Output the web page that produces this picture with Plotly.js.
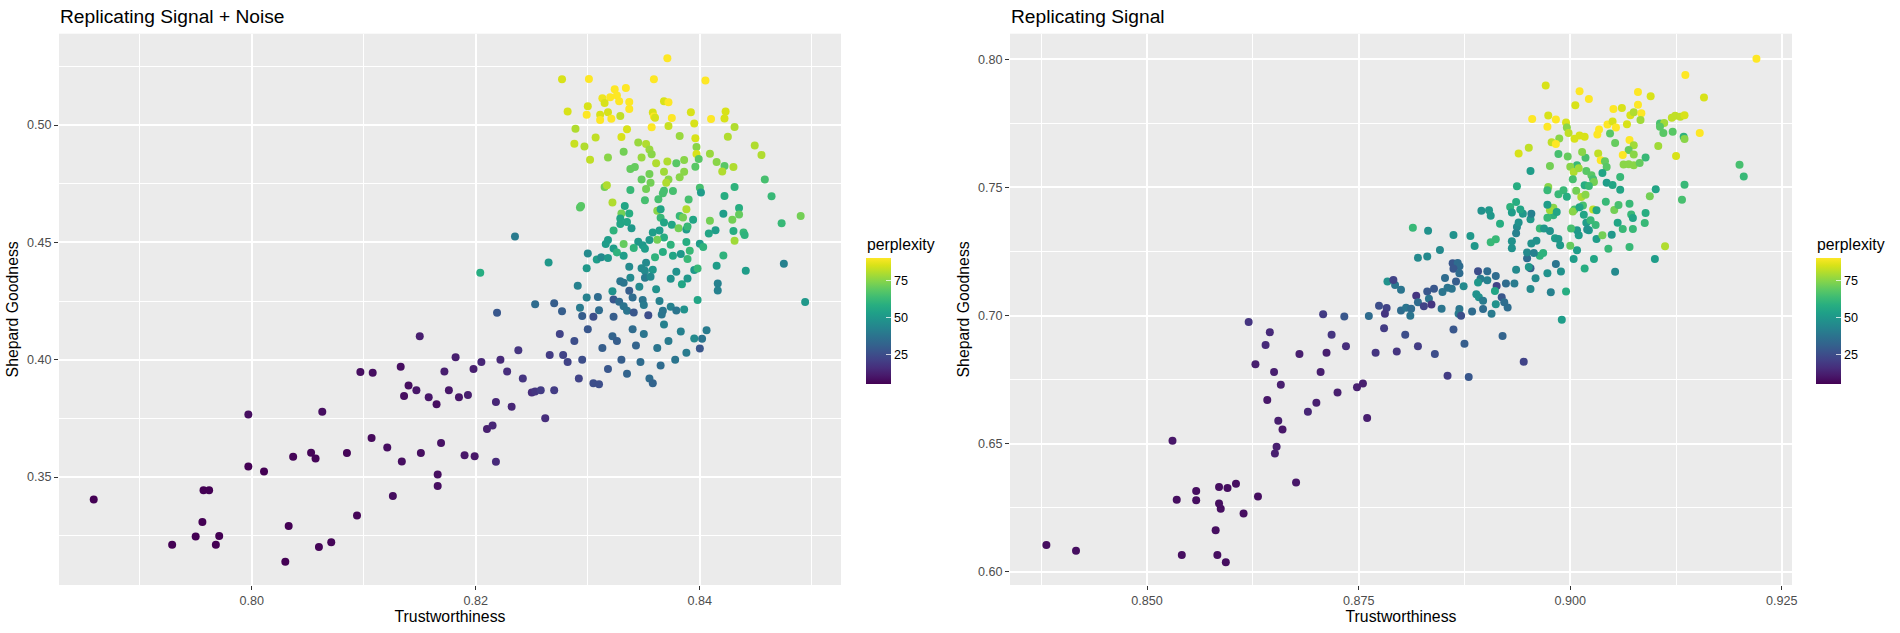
<!DOCTYPE html>
<html>
<head>
<meta charset="utf-8">
<script src="https://cdn.plot.ly/plotly-3.0.1.min.js"></script>
<style>html,body{margin:0;padding:0;background:#fff;}#chart{width:1900px;height:633px;}</style>
</head>
<body>
<div id="chart"></div>
<script>
// ---------- Panel 1: Replicating Signal + Noise ----------
const noiseTrust = [
0.7859,0.7929,0.7950,0.7956,0.7957,0.7962,0.7968,0.7971,0.7997,0.8011,
0.8030,0.8033,0.8037,0.8053,0.8057,0.8060,0.8071,0.8085,0.8094,0.8107,
0.8121,0.8126,0.8134,0.8151,0.8166,0.8166,0.8169,0.8190,0.8199,0.8218,
0.7997,0.8063,0.8097,0.8108,0.8133,0.8136,0.8140,0.8147,0.8150,0.8158,
0.8165,0.8172,0.8176,0.8182,0.8185,0.8193,0.8198,0.8205,0.8210,0.8215,
0.8218,0.8222,0.8228,0.8232,0.8238,0.8242,0.8250,0.8253,0.8258,0.8262,
0.8266,0.8270,0.8275,0.8278,0.8282,0.8288,0.8292,0.8295,0.8300,0.8305,
0.8310,0.8313,0.8318,0.8322,0.8326,0.8330,0.8335,0.8340,0.8343,0.8347,
0.8350,0.8355,0.8358,0.8362,0.8365,0.8368,0.8372,0.8378,0.8383,0.8388,
0.8395,0.8406,0.8402,0.8400,
0.8371,0.8277,0.8301,0.8359,0.8405,0.8324,0.8334,0.8313,0.8320,0.8326,
0.8328,0.8337,0.8315,0.8368,0.8372,0.8282,0.8300,0.8299,0.8311,0.8318,
0.8311,0.8321,0.8329,0.8337,0.8358,0.8359,0.8360,0.8375,0.8392,0.8410,
0.8423,0.8422,0.8395,0.8357,0.8372,0.8431,0.8289,0.8335,0.8307,0.8330,
0.8382,0.8396,0.8425,0.8288,0.8297,0.8345,0.8352,0.8355,0.8357,0.8397,
0.8397,0.8409,0.8449,0.8455,0.8302,0.8318,0.8332,0.8348,0.8361,0.8371,
0.8379,0.8386,0.8396,0.8399,0.8415,0.8422,0.8420,0.8430,0.8338,0.8342,
0.8355,0.8348,0.8356,0.8368,0.8372,0.8370,0.8382,0.8386,0.8458,0.8315,
0.8317,0.8338,0.8352,0.8368,0.8367,0.8376,0.8400,0.8401,0.8422,0.8431,
0.8464,0.8293,0.8294,0.8322,0.8333,0.8351,0.8363,0.8390,0.8330,0.8337,
0.8329,0.8329,0.8335,0.8339,0.8362,0.8365,0.8365,0.8368,0.8382,0.8385,
0.8388,0.8394,0.8375,0.8381,0.8388,0.8389,0.8409,0.8421,0.8429,0.8435,
0.8435,0.8414,0.8408,0.8430,0.8431,0.8439,0.8440,0.8473,0.8490,0.8323,
0.8358,0.8364,0.8368,0.8362,0.8355,0.8345,0.8349,0.8351,0.8341,0.8332,
0.8318,0.8316,0.8323,0.8326,0.8332,0.8360,0.8367,0.8374,0.8376,0.8383,
0.8388,0.8391,0.8389,0.8400,0.8403,0.8421,0.8300,0.8308,0.8312,0.8318,
0.8299,0.8265,0.8235,0.8204,0.8337,0.8348,0.8352,0.8351,0.8358,0.8351,
0.8356,0.8338,0.8329,0.8332,0.8346,0.8361,0.8374,0.8379,0.8384,0.8389,
0.8395,0.8398,0.8415,0.8416,0.8416,0.8441,0.8475,0.8494,0.8398,0.8291,
0.8299,0.8309,0.8322,0.8323,0.8328,0.8337,0.8340,0.8332,0.8335,0.8341,
0.8349,0.8350,0.8364,0.8367,0.8366,0.8354,0.8374,0.8379,0.8386,0.8253,
0.8270,0.8277,0.8219,0.8293,0.8295,0.8305,0.8310,0.8323
];
const noiseShepard = [
0.3404,0.3211,0.3247,0.3308,0.3444,0.3444,0.3211,0.3249,0.3545,0.3524,
0.3139,0.3291,0.3586,0.3603,0.3579,0.3202,0.3222,0.3602,0.3336,0.3666,
0.3626,0.3419,0.3566,0.3602,0.3511,0.3462,0.3645,0.3593,0.3589,0.3565,
0.3766,0.3778,0.3948,0.3944,0.3970,0.3845,0.3890,0.3870,0.4100,0.3840,
0.3810,0.3950,0.3870,0.4010,0.3840,0.3850,0.3960,0.3990,0.3705,0.3720,
0.3820,0.4000,0.3950,0.3800,0.4040,0.3920,0.3860,0.3865,0.3870,0.3750,
0.4020,0.3870,0.4110,0.4020,0.3990,0.4080,0.3920,0.4000,0.4130,0.3900,
0.3895,0.4050,0.3960,0.4100,0.4080,0.4000,0.3940,0.4130,0.4060,0.3990,
0.4110,0.3920,0.3900,0.4050,0.3975,0.4150,0.4080,0.4000,0.4120,0.4030,
0.4090,0.4125,0.4089,0.4048,
0.5284,0.5195,0.5196,0.5195,0.5190,0.5152,0.5158,0.5114,0.5118,0.5126,
0.5101,0.5098,0.5094,0.5101,0.5097,0.5057,0.5080,0.5044,0.5044,0.5054,
0.5021,0.5027,0.5038,0.5068,0.5053,0.5036,0.5031,0.5030,0.5054,0.5026,
0.5057,0.5028,0.5006,0.4990,0.4996,0.4991,0.4984,0.4982,0.4947,0.4949,
0.4953,0.4943,0.4950,0.4920,0.4908,0.4925,0.4919,0.4896,0.4875,0.4906,
0.4876,0.4878,0.4913,0.4872,0.4852,0.4861,0.4886,0.4861,0.4837,0.4844,
0.4837,0.4851,0.4822,0.4855,0.4842,0.4825,0.4802,0.4821,0.4812,0.4821,
0.4791,0.4768,0.4754,0.4801,0.4768,0.4754,0.4777,0.4801,0.4768,0.4736,
0.4743,0.4723,0.4727,0.4720,0.4709,0.4719,0.4733,0.4712,0.4697,0.4736,
0.4696,0.4648,0.4655,0.4670,0.4655,0.4679,0.4684,0.4683,0.4623,0.4623,
0.4602,0.4578,0.4587,0.4560,0.4635,0.4641,0.4605,0.4585,0.4612,0.4606,
0.4641,0.4596,0.4575,0.4560,0.4555,0.4567,0.4592,0.4622,0.4596,0.4646,
0.4619,0.4551,0.4538,0.4548,0.4507,0.4542,0.4531,0.4581,0.4612,0.4550,
0.4542,0.4550,0.4521,0.4511,0.4510,0.4503,0.4488,0.4473,0.4476,0.4493,
0.4510,0.4493,0.4474,0.4457,0.4443,0.4437,0.4459,0.4490,0.4443,0.4450,
0.4501,0.4464,0.4429,0.4494,0.4480,0.4444,0.4453,0.4427,0.4436,0.4433,
0.4390,0.4414,0.4525,0.4370,0.4396,0.4390,0.4413,0.4379,0.4383,0.4349,
0.4353,0.4349,0.4334,0.4328,0.4311,0.4300,0.4345,0.4375,0.4321,0.4346,
0.4382,0.4389,0.4400,0.4325,0.4295,0.4379,0.4409,0.4246,0.4254,0.4315,
0.4265,0.4267,0.4292,0.4257,0.4247,0.4294,0.4265,0.4228,0.4209,0.4201,
0.4254,0.4233,0.4250,0.4209,0.4193,0.4189,0.4226,0.4210,0.4214,0.4236,
0.4240,0.4206,0.4200,0.4221,0.4186,0.4183,0.4211,0.4183
];
const noisePerplexity = [
5,5,5,5,5,5,5,5,5,5,
5,5,6,6,6,6,6,6,6,7,
8,8,8,8,8,8,9,10,10,15,
8,8,8,8,8,8,8,10,12,10,
8,12,10,12,10,12,12,14,12,14,
14,15,16,14,18,18,16,18,20,16,
20,20,22,22,22,25,22,25,28,25,
25,30,28,32,30,30,32,35,32,35,
38,35,32,38,35,42,40,38,42,40,
45,40,38,28,
90,85,90,90,90,90,90,88,90,90,
90,90,85,85,90,85,85,90,85,85,
90,90,82,90,85,90,85,90,85,90,
85,85,85,90,83,80,80,85,82,85,
77,85,80,83,80,77,80,77,75,75,
85,77,80,80,82,75,72,77,80,80,
68,75,68,68,75,68,80,80,70,70,
72,70,72,78,75,80,75,75,65,72,
80,62,72,65,65,65,65,52,58,60,
62,68,68,80,55,65,65,65,72,58,
55,55,55,50,75,55,62,55,62,72,
80,55,55,72,52,62,72,52,72,58,
70,52,55,58,78,62,60,62,72,60,
52,52,58,72,50,50,50,52,60,70,
52,52,52,60,52,60,58,60,55,50,
58,62,62,52,60,60,45,52,45,50,
50,50,40,58,45,45,45,45,50,40,
45,45,38,38,45,48,48,48,55,50,
50,62,52,42,42,52,42,50,55,42,
42,35,48,28,35,30,35,38,38,28,
38,40,42,38,38,25,42,38,48,35,
30,30,28,40,30,25,35,30
];

// ---------- Panel 2: Replicating Signal ----------
const signalTrust = [
0.8381,0.8416,0.8530,0.8535,0.8541,0.8558,0.8558,0.8581,0.8583,0.8585,
0.8585,0.8587,0.8593,0.8595,0.8605,0.8614,0.8631,0.8651,0.8653,0.8676,
0.8620,0.8645,0.8640,0.8628,0.8650,0.8658,0.8642,0.8655,0.8660,0.8680,
0.8690,0.8700,0.8705,0.8712,0.8718,0.8708,0.8725,0.8735,0.8748,0.8755,
0.8760,0.8770,0.8780,0.8795,0.8805,0.8820,0.8840,0.8855,0.8862,0.8875,
0.8880,0.8920,0.8945,
0.9136,0.8971,0.9011,0.9080,0.9095,0.9006,0.9022,0.9080,0.9051,0.9061,
0.9071,0.9075,0.9084,0.9083,0.8955,0.8974,0.8983,0.8973,0.8995,0.8996,
0.8998,0.9011,0.9017,0.9005,0.8987,0.8978,0.8983,0.9044,0.9050,0.9054,
0.9034,0.9032,0.9047,0.9067,0.9106,0.9111,0.9106,0.9110,0.9120,0.9124,
0.9130,0.9135,0.9121,0.9134,0.9135,0.9153,0.9070,0.9053,0.9075,0.9069,
0.9075,0.9089,0.9062,0.9104,0.9125,0.9033,0.9036,0.9041,0.9043,0.9063,
0.9069,0.9075,0.9082,0.9135,0.9132,0.9101,0.9094,0.9112,0.9100,0.8939,
0.8951,0.8953,0.8976,0.8986,0.8997,0.9008,0.9000,0.9004,0.9010,0.9018,
0.9014,0.9003,0.9019,0.9025,0.9027,0.9028,0.9017,0.9022,0.9038,0.9043,
0.9050,0.9059,0.9059,0.8974,0.8973,0.8992,0.8986,0.8996,0.8937,0.9007,
0.9013,0.9018,0.9015,0.9005,0.9003,0.9011,0.9016,0.9027,0.9031,0.9019,
0.9022,0.9024,0.9030,0.9031,0.9038,0.9042,0.9052,0.9057,0.9070,0.9072,
0.9074,0.9089,0.9088,0.9074,0.9062,0.9056,0.9049,0.9045,0.9070,0.9053,
0.9028,0.9017,0.9004,0.9008,0.9000,0.9010,0.9008,0.9020,0.9001,0.8990,
0.8995,0.8977,0.8989,0.8983,0.8973,0.8953,0.8959,0.8953,0.8951,0.8936,
0.8949,0.8949,0.8954,0.8960,0.8964,0.8968,0.8957,0.8931,0.8931,0.8937,
0.8936,0.8939,0.8953,0.8954,0.8944,0.8941,0.8936,0.8929,0.8931,0.8964,
0.8969,0.8976,0.8982,0.8986,0.8988,0.8980,0.8980,0.8976,0.8973,0.8984,
0.8973,0.8917,0.8912,0.8906,0.8906,0.8904,0.8895,0.8887,0.8882,0.8862,
0.8832,0.8814,0.8846,0.8831,0.8820,0.8861,0.8867,0.8869,0.8862,0.8869,
0.8852,0.8865,0.8874,0.8855,0.8860,0.8849,0.8891,0.8902,0.8912,0.8894,
0.8891,0.8902,0.8913,0.8924,0.8934,0.8911,0.8889,0.8892,0.8897,0.8919,
0.8922,0.8926,0.8912,0.8897,0.8907,0.8884,0.8869,0.8868,0.8871,0.8848,
0.8784,0.8793,0.8800,0.8791,0.8774,0.8783,0.8781,0.8800,0.8806,0.8812,
0.8818,0.8820,0.8827,0.8831,0.8839,0.8833,0.8836,0.8811,0.8762,0.8733,
0.9220,0.9158,0.9200,0.9205
];
const signalShepard = [
0.6105,0.6083,0.6512,0.6281,0.6066,0.6316,0.6280,0.6163,0.6066,0.6331,
0.6267,0.6246,0.6038,0.6327,0.6344,0.6228,0.6294,0.6462,0.6488,0.6349,
0.6975,0.6935,0.6885,0.6810,0.6780,0.6730,0.6670,0.6590,0.6555,0.6850,
0.6625,0.6660,0.6780,0.6855,0.6925,0.7005,0.6700,0.6880,0.6720,0.6735,
0.6600,0.6855,0.6950,0.6860,0.6925,0.6880,0.6850,0.6765,0.6945,0.6890,
0.6760,0.6920,0.6820,
0.7938,0.7897,0.7875,0.7872,0.7855,0.7820,0.7844,0.7822,0.7805,0.7809,
0.7781,0.7793,0.7789,0.7762,0.7766,0.7780,0.7764,0.7736,0.7753,0.7733,
0.7712,0.7702,0.7697,0.7689,0.7690,0.7676,0.7669,0.7745,0.7757,0.7733,
0.7725,0.7706,0.7710,0.7746,0.7749,0.7751,0.7736,0.7712,0.7771,0.7779,
0.7775,0.7781,0.7717,0.7697,0.7688,0.7712,0.7684,0.7673,0.7664,0.7645,
0.7628,0.7616,0.7626,0.7661,0.7622,0.7632,0.7605,0.7602,0.7579,0.7589,
0.7590,0.7586,0.7595,0.7510,0.7451,0.7492,0.7465,0.7270,0.7220,0.7632,
0.7654,0.7564,0.7583,0.7630,0.7620,0.7586,0.7580,0.7560,0.7574,0.7615,
0.7638,0.7531,0.7564,0.7547,0.7531,0.7521,0.7508,0.7505,0.7556,0.7518,
0.7509,0.7540,0.7490,0.7501,0.7488,0.7488,0.7473,0.7463,0.7504,0.7487,
0.7462,0.7471,0.7429,0.7413,0.7406,0.7422,0.7393,0.7413,0.7410,0.7362,
0.7332,0.7371,0.7353,0.7298,0.7313,0.7444,0.7411,0.7431,0.7436,0.7394,
0.7380,0.7400,0.7361,0.7337,0.7337,0.7362,0.7315,0.7260,0.7267,0.7171,
0.7220,0.7183,0.7220,0.7254,0.7272,0.7313,0.7332,0.7335,0.7339,0.6983,
0.7094,0.7091,0.7172,0.7201,0.7165,0.7103,0.7145,0.7184,0.7189,0.7178,
0.7223,0.7246,0.7281,0.7292,0.7233,0.7244,0.7244,0.7262,0.7290,0.7345,
0.7321,0.7363,0.7375,0.7397,0.7397,0.7413,0.7443,0.7423,0.7402,0.7339,
0.7339,0.7330,0.7301,0.7298,0.7274,0.7391,0.7420,0.7410,0.7381,0.7404,
0.7432,0.7358,0.7297,0.7286,0.7389,0.7410,0.7409,0.7271,0.7310,0.7314,
0.7331,0.7342,0.7255,0.7230,0.7225,0.7204,0.7205,0.7192,0.7182,0.7165,
0.7146,0.7133,0.7114,0.7108,0.7104,0.7092,0.7173,0.7173,0.7154,0.7143,
0.7129,0.7137,0.7115,0.7125,0.7125,0.7096,0.7083,0.7071,0.7058,0.7071,
0.7052,0.7031,0.7044,0.7025,0.7007,0.7016,0.7025,0.7007,0.6999,0.7026,
0.7133,0.7119,0.7100,0.7138,0.7038,0.7029,0.7007,0.7020,0.7030,0.7026,
0.7077,0.7052,0.7036,0.7094,0.7104,0.7065,0.7043,0.6999,0.6998,0.6996,
0.8001,0.7850,0.7588,0.7542
];
const signalPerplexity = [
8,8,10,8,8,8,8,8,8,8,
8,8,8,8,8,8,8,12,12,10,
18,15,15,12,12,12,10,12,10,12,
14,12,12,12,18,20,12,16,12,12,
12,18,20,18,25,20,25,20,28,30,
28,32,22,
90,85,90,90,85,85,90,90,90,85,
85,80,90,78,90,85,90,90,85,75,
82,85,85,85,75,82,90,90,85,90,
90,90,68,85,65,78,68,68,82,82,
82,85,68,60,75,90,90,70,78,70,
75,62,90,78,85,82,90,70,68,75,
75,75,70,62,65,55,72,80,52,85,
82,52,72,65,70,62,75,80,78,65,
75,65,68,68,65,72,58,62,55,52,
55,62,55,75,62,62,62,58,58,72,
80,75,65,65,75,55,55,82,55,52,
52,62,62,52,72,62,72,65,62,62,
55,58,62,62,62,55,50,62,62,45,
55,58,52,52,70,52,50,48,65,52,
58,42,48,38,48,45,45,30,50,45,
35,45,48,48,60,60,42,48,48,45,
42,48,50,42,50,55,58,60,52,62,
50,48,52,50,50,60,75,78,62,55,
52,58,62,62,50,50,48,50,50,48,
48,62,45,45,45,28,35,35,28,35,
35,30,45,38,38,38,25,35,35,40,
50,42,22,35,40,55,48,48,40,28,
35,35,48,35,40,35,38,40,25,38,
48,38,38,22,25,22,18,35,38,35,
18,35,22,28,28,38,18,38,35,28,
90,85,65,62
];

// ---------- axis / legend labels ----------
const panelTitles = ["Replicating Signal + Noise", "Replicating Signal"];
const xTitle = "Trustworthiness";
const yTitle = "Shepard Goodness";
const legendTitle = "perplexity";
const legendTicks = [25, 50, 75];
const noiseXTicks = [0.80, 0.82, 0.84];
const noiseYTicks = [0.35, 0.40, 0.45, 0.50];
const signalXTicks = [0.850, 0.875, 0.900, 0.925];
const signalYTicks = [0.60, 0.65, 0.70, 0.75, 0.80];
const perplexityRange = [5, 90];

const W = 1900, H = 633;
const FONT = "Liberation Sans, Arial, Helvetica, sans-serif";
const TICK_SIZE = 12.6, TITLE_SIZE = 15.8, MAIN_SIZE = 19.2;
const plotTop = 33.7, plotBottom = 585;
const yDom = [(H - plotBottom) / H, (H - plotTop) / H];

function colorbar(xpx) {
  return {
    x: xpx / W, xanchor: 'left', xref: 'paper',
    y: 1 - 321 / H, yanchor: 'middle', yref: 'paper',
    len: 126, lenmode: 'pixels', thickness: 25, thicknessmode: 'pixels',
    xpad: 0, ypad: 0, outlinewidth: 0, borderwidth: 0,
    tickmode: 'array', tickvals: legendTicks, ticktext: legendTicks.map(String),
    ticks: 'inside', ticklen: 5, tickwidth: 1, tickcolor: 'rgba(255,255,255,0.75)',
    tickfont: {family: FONT, size: TICK_SIZE, color: '#000000'},
    title: {text: ''}
  };
}

function xAxis(domain, range, tickvals, fmt, minorDtick, tick0) {
  return {
    domain: domain, range: range, tickmode: 'array', tickvals: tickvals,
    ticktext: tickvals.map(v => v.toFixed(fmt)),
    ticks: 'outside', ticklen: 4, tickwidth: 1.1, tickcolor: '#333333',
    tickfont: {family: FONT, size: TICK_SIZE, color: '#4D4D4D'},
    showgrid: true, gridcolor: '#FFFFFF', gridwidth: 1.7,
    minor: {dtick: minorDtick, tick0: tick0, showgrid: true, gridcolor: '#FFFFFF', gridwidth: 0.85, ticks: ''},
    zeroline: false, showline: false, automargin: false,
    title: {text: xTitle, font: {family: FONT, size: TITLE_SIZE, color: '#000000'}, standoff: 3}
  };
}
function yAxis(range, tickvals, minorDtick, anchor) {
  return {
    domain: yDom, range: range, anchor: anchor, tickmode: 'array', tickvals: tickvals,
    ticktext: tickvals.map(v => v.toFixed(2)),
    ticks: 'outside', ticklen: 4, tickwidth: 1.1, tickcolor: '#333333',
    tickfont: {family: FONT, size: TICK_SIZE, color: '#4D4D4D'},
    showgrid: true, gridcolor: '#FFFFFF', gridwidth: 1.7,
    minor: {dtick: minorDtick, tick0: 0, showgrid: true, gridcolor: '#FFFFFF', gridwidth: 0.85, ticks: ''},
    zeroline: false, showline: false, automargin: false,
    title: {text: yTitle, font: {family: FONT, size: TITLE_SIZE, color: '#000000'}, standoff: 4}
  };
}

const traces = [
  {type: 'scatter', mode: 'markers', x: noiseTrust, y: noiseShepard, xaxis: 'x', yaxis: 'y',
   marker: {size: 8, color: noisePerplexity, coloraxis: 'coloraxis', line: {width: 0}},
   hoverinfo: 'x+y', showlegend: false},
  {type: 'scatter', mode: 'markers', x: signalTrust, y: signalShepard, xaxis: 'x2', yaxis: 'y2',
   marker: {size: 8, color: signalPerplexity, coloraxis: 'coloraxis2', line: {width: 0}},
   hoverinfo: 'x+y', showlegend: false}
];

const layout = {
  width: W, height: H, margin: {l: 0, r: 0, t: 0, b: 0, pad: 0},
  paper_bgcolor: '#FFFFFF', plot_bgcolor: '#EBEBEB', showlegend: false,
  font: {family: FONT, color: '#000000'},
  xaxis: Object.assign(xAxis([59 / W, 841 / W], [0.7828, 0.8526], noiseXTicks, 2, 0.01, 0.79), {anchor: 'y'}),
  yaxis: yAxis([0.3040, 0.5389], noiseYTicks, 0.025, 'x'),
  xaxis2: Object.assign(xAxis([1010 / W, 1792 / W], [0.8338, 0.9262], signalXTicks, 3, 0.0125, 0.8375), {anchor: 'y2'}),
  yaxis2: yAxis([0.5949, 0.8099], signalYTicks, 0.025, 'x2'),
  coloraxis: {colorscale: 'Viridis', cmin: perplexityRange[0], cmax: perplexityRange[1], colorbar: colorbar(866)},
  coloraxis2: {colorscale: 'Viridis', cmin: perplexityRange[0], cmax: perplexityRange[1], colorbar: colorbar(1816)},
  annotations: [
    {text: panelTitles[0], xref: 'paper', yref: 'paper', x: 58 / W, y: 1 - 16.3 / H, xanchor: 'left', yanchor: 'middle', showarrow: false, font: {family: FONT, size: MAIN_SIZE, color: '#000000'}},
    {text: panelTitles[1], xref: 'paper', yref: 'paper', x: 1009 / W, y: 1 - 16.3 / H, xanchor: 'left', yanchor: 'middle', showarrow: false, font: {family: FONT, size: MAIN_SIZE, color: '#000000'}},
    {text: legendTitle, xref: 'paper', yref: 'paper', x: 865 / W, y: 1 - 244.5 / H, xanchor: 'left', yanchor: 'middle', showarrow: false, font: {family: FONT, size: TITLE_SIZE, color: '#000000'}},
    {text: legendTitle, xref: 'paper', yref: 'paper', x: 1815 / W, y: 1 - 244.5 / H, xanchor: 'left', yanchor: 'middle', showarrow: false, font: {family: FONT, size: TITLE_SIZE, color: '#000000'}}
  ]
};

Plotly.newPlot('chart', traces, layout, {displayModeBar: false, responsive: false});
</script>
</body>
</html>
